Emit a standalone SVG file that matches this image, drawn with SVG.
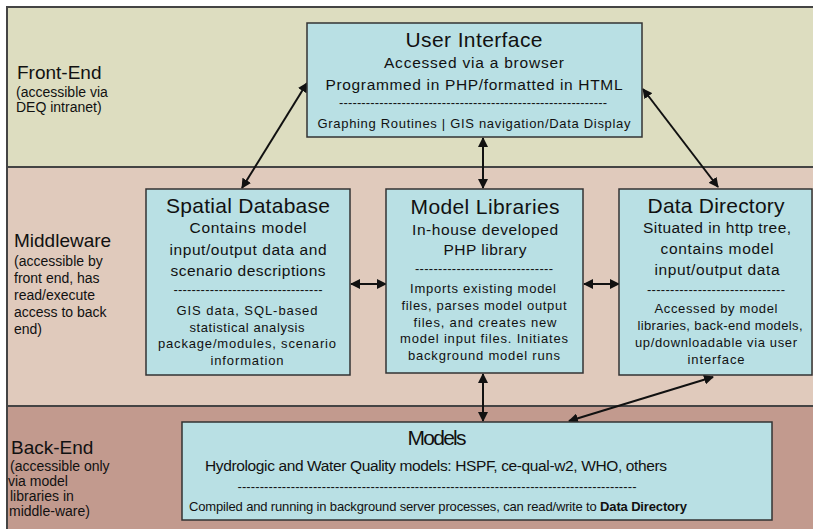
<svg xmlns="http://www.w3.org/2000/svg" width="813" height="529" viewBox="0 0 813 529">
<style>
text{font-family:"Liberation Sans",Arial,sans-serif;fill:#111}
.t{font-size:21px;text-anchor:middle}
.s{font-size:15.5px;text-anchor:middle}
.m{font-size:13px;text-anchor:middle}
.lh{font-size:19px}
.ls{font-size:14px}
.box{fill:#B9E0E4;stroke:#333;stroke-width:1.5}
.band{stroke:#444;stroke-width:2}
.c{stroke:#111;stroke-width:2;fill:none;marker-start:url(#a);marker-end:url(#a)}
</style>
<defs>
<marker id="a" viewBox="0 0 10 10" refX="9" refY="5" markerWidth="5" markerHeight="5" orient="auto-start-reverse" markerUnits="strokeWidth">
<path d="M0,0 L10,5 L0,10 z" fill="#111"/>
</marker>
</defs>
<rect width="813" height="529" fill="#fff"/>
<g id="bands">
<rect class="band" x="7" y="7" width="810" height="160" fill="#DDDDC0"/>
<rect class="band" x="7" y="167" width="810" height="239" fill="#E0CABC"/>
<rect class="band" x="7" y="406" width="810" height="130" fill="#C29A8E"/>
</g>
<g id="labels">
<text class="lh" x="17" y="79">Front-End</text>
<text class="ls" x="16" y="97">(accessible via</text>
<text class="ls" x="16" y="112">DEQ intranet)</text>
<text class="lh" x="14" y="247">Middleware</text>
<text class="ls" x="14" y="266">(accessible by</text>
<text class="ls" x="14" y="283">front end, has</text>
<text class="ls" x="14" y="300">read/execute</text>
<text class="ls" x="14" y="317">access to back</text>
<text class="ls" x="14" y="334">end)</text>
<text class="lh" x="11" y="454" font-size="18">Back-End</text>
<text class="ls" x="10" y="471" font-size="13.5">(accessible only</text>
<text class="ls" x="8" y="486" font-size="13.5">via model</text>
<text class="ls" x="10" y="501" font-size="13.5">libraries in</text>
<text class="ls" x="9" y="516" font-size="13.5">middle-ware)</text>
</g>
<g id="connectors">
<line class="c" x1="242" y1="188" x2="307" y2="83"/>
<line class="c" x1="483" y1="138" x2="483" y2="188"/>
<line class="c" x1="643" y1="89" x2="718" y2="187"/>
<line class="c" x1="351" y1="284" x2="386" y2="284"/>
<line class="c" x1="584" y1="284" x2="619" y2="284"/>
<line class="c" x1="483" y1="374" x2="483" y2="421"/>
<line class="c" x1="713" y1="377" x2="569" y2="421"/>
</g>
<g id="user-interface">
<rect class="box" x="307" y="23" width="335" height="114"/>
<text class="t" x="474" y="47" textLength="137">User Interface</text>
<text class="s" x="474" y="68" textLength="180">Accessed via a browser</text>
<text class="s" x="474" y="90" textLength="297">Programmed in PHP/formatted in HTML</text>
<text class="m" x="473" y="107" textLength="268">------------------------------------------------------------</text>
<text class="m" x="474" y="128" textLength="313">Graphing Routines | GIS navigation/Data Display</text>
</g>
<g id="spatial-database">
<rect class="box" x="146" y="189" width="204" height="186"/>
<text class="t" x="248" y="213" textLength="164">Spatial Database</text>
<text class="s" x="248" y="233" textLength="117">Contains model</text>
<text class="s" x="248" y="255" textLength="157">input/output data and</text>
<text class="s" x="248" y="276" textLength="155">scenario descriptions</text>
<text class="m" x="248" y="294" textLength="149">---------------------------------</text>
<text class="m" x="247" y="315" textLength="141">GIS data, SQL-based</text>
<text class="m" x="247" y="332" textLength="115">statistical analysis</text>
<text class="m" x="247" y="348" textLength="178">package/modules, scenario</text>
<text class="m" x="247" y="365" textLength="73">information</text>
</g>
<g id="model-libraries">
<rect class="box" x="386" y="189" width="197" height="184"/>
<text class="t" x="485" y="214" textLength="149">Model Libraries</text>
<text class="s" x="485" y="235" textLength="146">In-house developed</text>
<text class="s" x="485" y="255" textLength="83">PHP library</text>
<text class="m" x="484" y="273" textLength="138">------------------------------</text>
<text class="m" x="483" y="293" textLength="146">Imports existing model</text>
<text class="m" x="484" y="310" textLength="165">files, parses model output</text>
<text class="m" x="485" y="327" textLength="143">files, and creates new</text>
<text class="m" x="484" y="343" textLength="168">model input files.  Initiates</text>
<text class="m" x="484" y="360" textLength="152">background model runs</text>
</g>
<g id="data-directory">
<rect class="box" x="619" y="189" width="193" height="186"/>
<text class="t" x="716" y="213" textLength="137">Data Directory</text>
<text class="s" x="717" y="233" textLength="148">Situated in http tree,</text>
<text class="s" x="717" y="254" textLength="113">contains model</text>
<text class="s" x="717" y="275" textLength="125">input/output data</text>
<text class="m" x="716" y="294" textLength="138">------------------------------</text>
<text class="m" x="716" y="313" textLength="123">Accessed by model</text>
<text class="m" x="720" y="330" textLength="165">libraries, back-end models,</text>
<text class="m" x="716" y="347" textLength="162">up/downloadable via user</text>
<text class="m" x="716" y="364" textLength="57">interface</text>
</g>
<g id="models">
<rect class="box" x="182" y="422" width="590" height="98"/>
<text class="t" x="437" y="445" textLength="59">Models</text>
<text class="s" x="436" y="471" textLength="462">Hydrologic and Water Quality models: HSPF, ce-qual-w2, WHO, others</text>
<text class="m" x="437" y="491" textLength="399">------------------------------------------------------------------------------------------</text>
<text class="m" x="438" y="511" textLength="498">Compiled and running in background server processes, can read/write to <tspan font-weight="bold">Data Directory</tspan></text>
</g>
</svg>
